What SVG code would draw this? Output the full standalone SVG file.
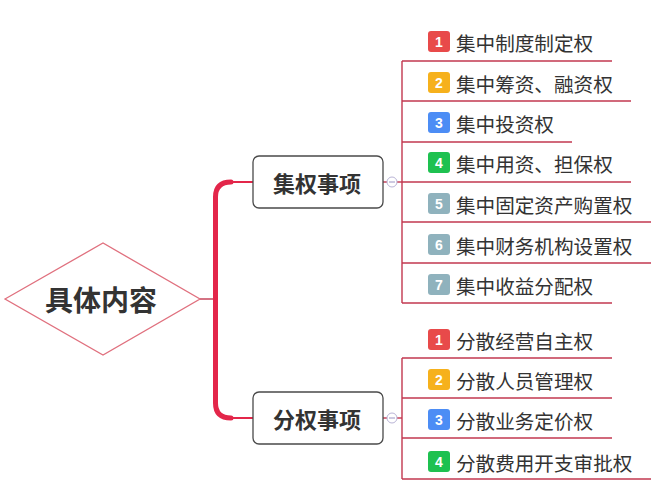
<svg xmlns="http://www.w3.org/2000/svg" width="671" height="492" viewBox="0 0 671 492">
<defs>
<style>
.bg{fill:#ffffff}
.thin{stroke:#c2374f;stroke-width:1.4;fill:none}
.thick{stroke:#e3264a;stroke-width:5;fill:none;stroke-linecap:round}
.mid{stroke:#e3264a;stroke-width:2;fill:none}
.node{fill:#ffffff;stroke:#4a4a4a;stroke-width:1.3}
.ntext{font-family:"Noto Sans CJK SC","Noto Sans",sans-serif;font-weight:bold;font-size:22px;fill:#333333;text-anchor:middle;dominant-baseline:central}
.rtext{font-family:"Noto Sans CJK SC","Noto Sans",sans-serif;font-weight:bold;font-size:28px;fill:#333333;text-anchor:middle;dominant-baseline:central}
.itext{font-family:"Noto Sans CJK SC","Noto Sans",sans-serif;font-size:19.6px;fill:#333333;dominant-baseline:central}
.btext{font-family:"Liberation Sans",Arial,sans-serif;font-weight:bold;font-size:14px;fill:#ffffff;text-anchor:middle;dominant-baseline:central}
.c1{fill:#e84a4a}.c2{fill:#f6b11c}.c3{fill:#4c8df5}.c4{fill:#1ec150}.c5{fill:#8fb2bd}
.tog{fill:#ffffff;stroke:#b9b4d6;stroke-width:1}
.togm{stroke:#9a94c4;stroke-width:1}
</style>
</defs>
<rect class="bg" x="0" y="0" width="671" height="492"/>

<g id="connectors">
  <line class="thin" x1="200" y1="299" x2="215" y2="299"/>
  <path class="thick" d="M215.5 300 V197 Q215.5 182 231 182"/>
  <path class="thick" d="M215.5 300 V403 Q215.5 418 231 418"/>
  <line class="mid" x1="229" y1="182" x2="253" y2="182"/>
  <line class="mid" x1="229" y1="418" x2="253" y2="418"/>
  <!-- upper group -->
  <line class="thin" x1="383" y1="182" x2="402" y2="182"/>
  <line class="thin" x1="402" y1="61" x2="402" y2="303"/>
  <line class="thin" x1="402" y1="61" x2="612" y2="61"/>
  <line class="thin" x1="402" y1="101" x2="631" y2="101"/>
  <line class="thin" x1="402" y1="142" x2="572" y2="142"/>
  <line class="thin" x1="402" y1="182" x2="631" y2="182"/>
  <line class="thin" x1="402" y1="222" x2="651" y2="222"/>
  <line class="thin" x1="402" y1="263" x2="651" y2="263"/>
  <line class="thin" x1="402" y1="303" x2="612" y2="303"/>
  <!-- lower group -->
  <line class="thin" x1="383" y1="418" x2="402" y2="418"/>
  <line class="thin" x1="402" y1="358" x2="402" y2="479"/>
  <line class="thin" x1="402" y1="358" x2="612" y2="358"/>
  <line class="thin" x1="402" y1="398" x2="612" y2="398"/>
  <line class="thin" x1="402" y1="438" x2="612" y2="438"/>
  <line class="thin" x1="402" y1="479" x2="651" y2="479"/>
  <circle class="tog" cx="392" cy="182" r="5"/>
  <line class="togm" x1="389" y1="182" x2="395" y2="182"/>
  <circle class="tog" cx="392" cy="418" r="5"/>
  <line class="togm" x1="389" y1="418" x2="395" y2="418"/>
</g>

<g id="root">
  <polygon points="5,299 103,243 200,299 103,355" fill="#ffffff" stroke="#e0707e" stroke-width="1.3"/>
  <text class="rtext" x="101" y="299">具体内容</text>
</g>

<g id="n-jiquan">
  <rect class="node" x="253" y="156" width="130" height="52" rx="6"/>
  <text class="ntext" x="317" y="182">集权事项</text>
</g>
<g id="n-fenquan">
  <rect class="node" x="253" y="392" width="130" height="52" rx="6"/>
  <text class="ntext" x="317" y="418">分权事项</text>
</g>

<g id="u1"><rect class="c1" x="428" y="31" width="22" height="21" rx="3"/><text class="btext" x="439" y="42">1</text><text class="itext" x="456" y="42">集中制度制定权</text></g>
<g id="u2"><rect class="c2" x="428" y="72" width="22" height="21" rx="3"/><text class="btext" x="439" y="83">2</text><text class="itext" x="456" y="83">集中筹资、融资权</text></g>
<g id="u3"><rect class="c3" x="428" y="112" width="22" height="21" rx="3"/><text class="btext" x="439" y="123">3</text><text class="itext" x="456" y="123">集中投资权</text></g>
<g id="u4"><rect class="c4" x="428" y="152" width="22" height="21" rx="3"/><text class="btext" x="439" y="163">4</text><text class="itext" x="456" y="163">集中用资、担保权</text></g>
<g id="u5"><rect class="c5" x="428" y="193" width="22" height="21" rx="3"/><text class="btext" x="439" y="204">5</text><text class="itext" x="456" y="204">集中固定资产购置权</text></g>
<g id="u6"><rect class="c5" x="428" y="234" width="22" height="21" rx="3"/><text class="btext" x="439" y="245">6</text><text class="itext" x="456" y="245">集中财务机构设置权</text></g>
<g id="u7"><rect class="c5" x="428" y="274" width="22" height="21" rx="3"/><text class="btext" x="439" y="285">7</text><text class="itext" x="456" y="285">集中收益分配权</text></g>

<g id="d1"><rect class="c1" x="428" y="329" width="22" height="21" rx="3"/><text class="btext" x="439" y="340">1</text><text class="itext" x="456" y="340">分散经营自主权</text></g>
<g id="d2"><rect class="c2" x="428" y="369" width="22" height="21" rx="3"/><text class="btext" x="439" y="380">2</text><text class="itext" x="456" y="380">分散人员管理权</text></g>
<g id="d3"><rect class="c3" x="428" y="409" width="22" height="21" rx="3"/><text class="btext" x="439" y="420">3</text><text class="itext" x="456" y="420">分散业务定价权</text></g>
<g id="d4"><rect class="c4" x="428" y="451" width="22" height="21" rx="3"/><text class="btext" x="439" y="462">4</text><text class="itext" x="456" y="462">分散费用开支审批权</text></g>
</svg>
